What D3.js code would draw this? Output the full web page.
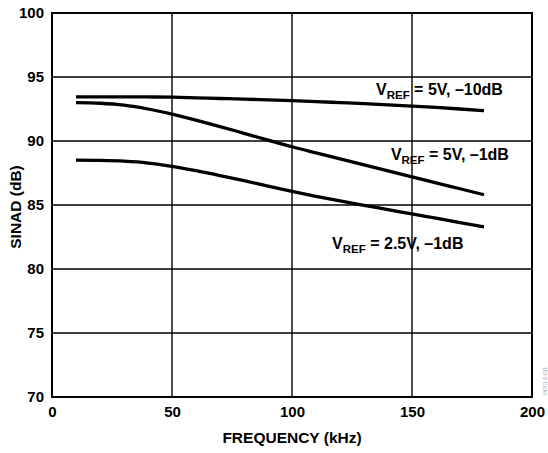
<!DOCTYPE html>
<html>
<head>
<meta charset="utf-8">
<script src="https://cdn.jsdelivr.net/npm/d3@7"></script>
<style>
  body { margin: 0; background: #fff; }
  text { font-family: "Liberation Sans", Arial, sans-serif; font-weight: bold; fill: #000; }
</style>
</head>
<body>
<div id="chart"></div>
<script>
// data
var freq = [10, 20, 30, 40, 50, 60, 70, 80, 90, 100, 110, 120, 130, 140, 150, 160, 170, 180];
var sinad5v10 = [93.45, 93.45, 93.45, 93.44, 93.42, 93.37, 93.32, 93.27, 93.21, 93.15, 93.08, 93.0, 92.92, 92.83, 92.73, 92.62, 92.5, 92.37];
var sinad5v1 = [93.0, 92.95, 92.8, 92.5, 92.1, 91.63, 91.13, 90.6, 90.07, 89.55, 89.07, 88.6, 88.13, 87.67, 87.2, 86.73, 86.27, 85.8];
var sinad25v1 = [88.5, 88.48, 88.42, 88.28, 88.02, 87.68, 87.3, 86.9, 86.48, 86.07, 85.68, 85.32, 84.97, 84.64, 84.3, 83.97, 83.63, 83.3];
var xTicks = [0, 50, 100, 150, 200];
var yTicks = [70, 75, 80, 85, 90, 95, 100];

var width = 548, height = 453;
var margin = {left: 52, right: 16, top: 13, bottom: 56};

var svg = d3.select("#chart")
	.append("svg")
	.attr("width", width)
	.attr("height", height);

var x = d3.scaleLinear().domain([0, 200]).range([margin.left, width - margin.right]);
var y = d3.scaleLinear().domain([70, 100]).range([height - margin.bottom, margin.top]);

// grid
svg.append("g")
	.selectAll("line")
	.data(xTicks)
	.enter()
	.append("line")
	.attr("x1", d => x(d)).attr("x2", d => x(d))
	.attr("y1", y(70)).attr("y2", y(100))
	.attr("stroke", "#000")
	.attr("stroke-width", 1.4);
svg.append("g")
	.selectAll("line")
	.data(yTicks)
	.enter()
	.append("line")
	.attr("x1", x(0)).attr("x2", x(200))
	.attr("y1", d => y(d)).attr("y2", d => y(d))
	.attr("stroke", "#000")
	.attr("stroke-width", 1.4);

// frame
svg.append("rect")
	.attr("x", x(0)).attr("y", y(100))
	.attr("width", x(200) - x(0))
	.attr("height", y(70) - y(100))
	.attr("fill", "none")
	.attr("stroke", "#000")
	.attr("stroke-width", 2);

// axes (labels only)
var xAxis = svg.append("g")
	.attr("transform", "translate(0," + y(70) + ")")
	.call(d3.axisBottom(x).tickValues(xTicks).tickSize(0).tickPadding(9));
var yAxis = svg.append("g")
	.attr("transform", "translate(" + x(0) + ",0)")
	.call(d3.axisLeft(y).tickValues(yTicks).tickSize(0).tickPadding(8));
[xAxis, yAxis].forEach(function(a) {
	a.select(".domain").remove();
	a.selectAll("text")
		.style("font-family", "'Liberation Sans', Arial, sans-serif")
		.style("font-weight", "bold")
		.style("font-size", "15px")
		.attr("fill", "#000");
});

// axis titles
svg.append("text")
	.attr("x", (x(0) + x(200)) / 2)
	.attr("y", 443)
	.attr("text-anchor", "middle")
	.style("font-size", "15.5px")
	.text("FREQUENCY (kHz)");
svg.append("text")
	.attr("transform", "translate(21," + (y(85) + 2) + ") rotate(-90)")
	.attr("text-anchor", "middle")
	.style("font-size", "15.5px")
	.text("SINAD (dB)");

// curves
var line = d3.line()
	.x((d, i) => x(freq[i]))
	.y(d => y(d))
	.curve(d3.curveMonotoneX);

[sinad5v10, sinad5v1, sinad25v1].forEach(function(s) {
	svg.append("path")
		.attr("d", line(s))
		.attr("fill", "none")
		.attr("stroke", "#000")
		.attr("stroke-width", 3.3);
});

// curve labels
function addLabel(fx, dbv, rest) {
	var t = svg.append("text")
		.attr("x", x(fx))
		.attr("y", y(dbv))
		.style("font-size", "16px");
	t.append("tspan").text("V");
	t.append("tspan").attr("dy", 4).style("font-size", "11.5px").text("REF");
	t.append("tspan").attr("dy", -4).text(" = " + rest);
}
addLabel(135, 93.6, "5V, \u201310dB");
addLabel(141.2, 88.5, "5V, \u20131dB");
addLabel(116.7, 81.6, "2.5V, \u20131dB");

// figure id
svg.append("text")
	.attr("transform", "translate(547,395) rotate(-90)")
	.style("font-size", "5px")
	.style("font-weight", "normal")
	.style("fill", "#999")
	.text("04701-0-011");
</script>
</body>
</html>
